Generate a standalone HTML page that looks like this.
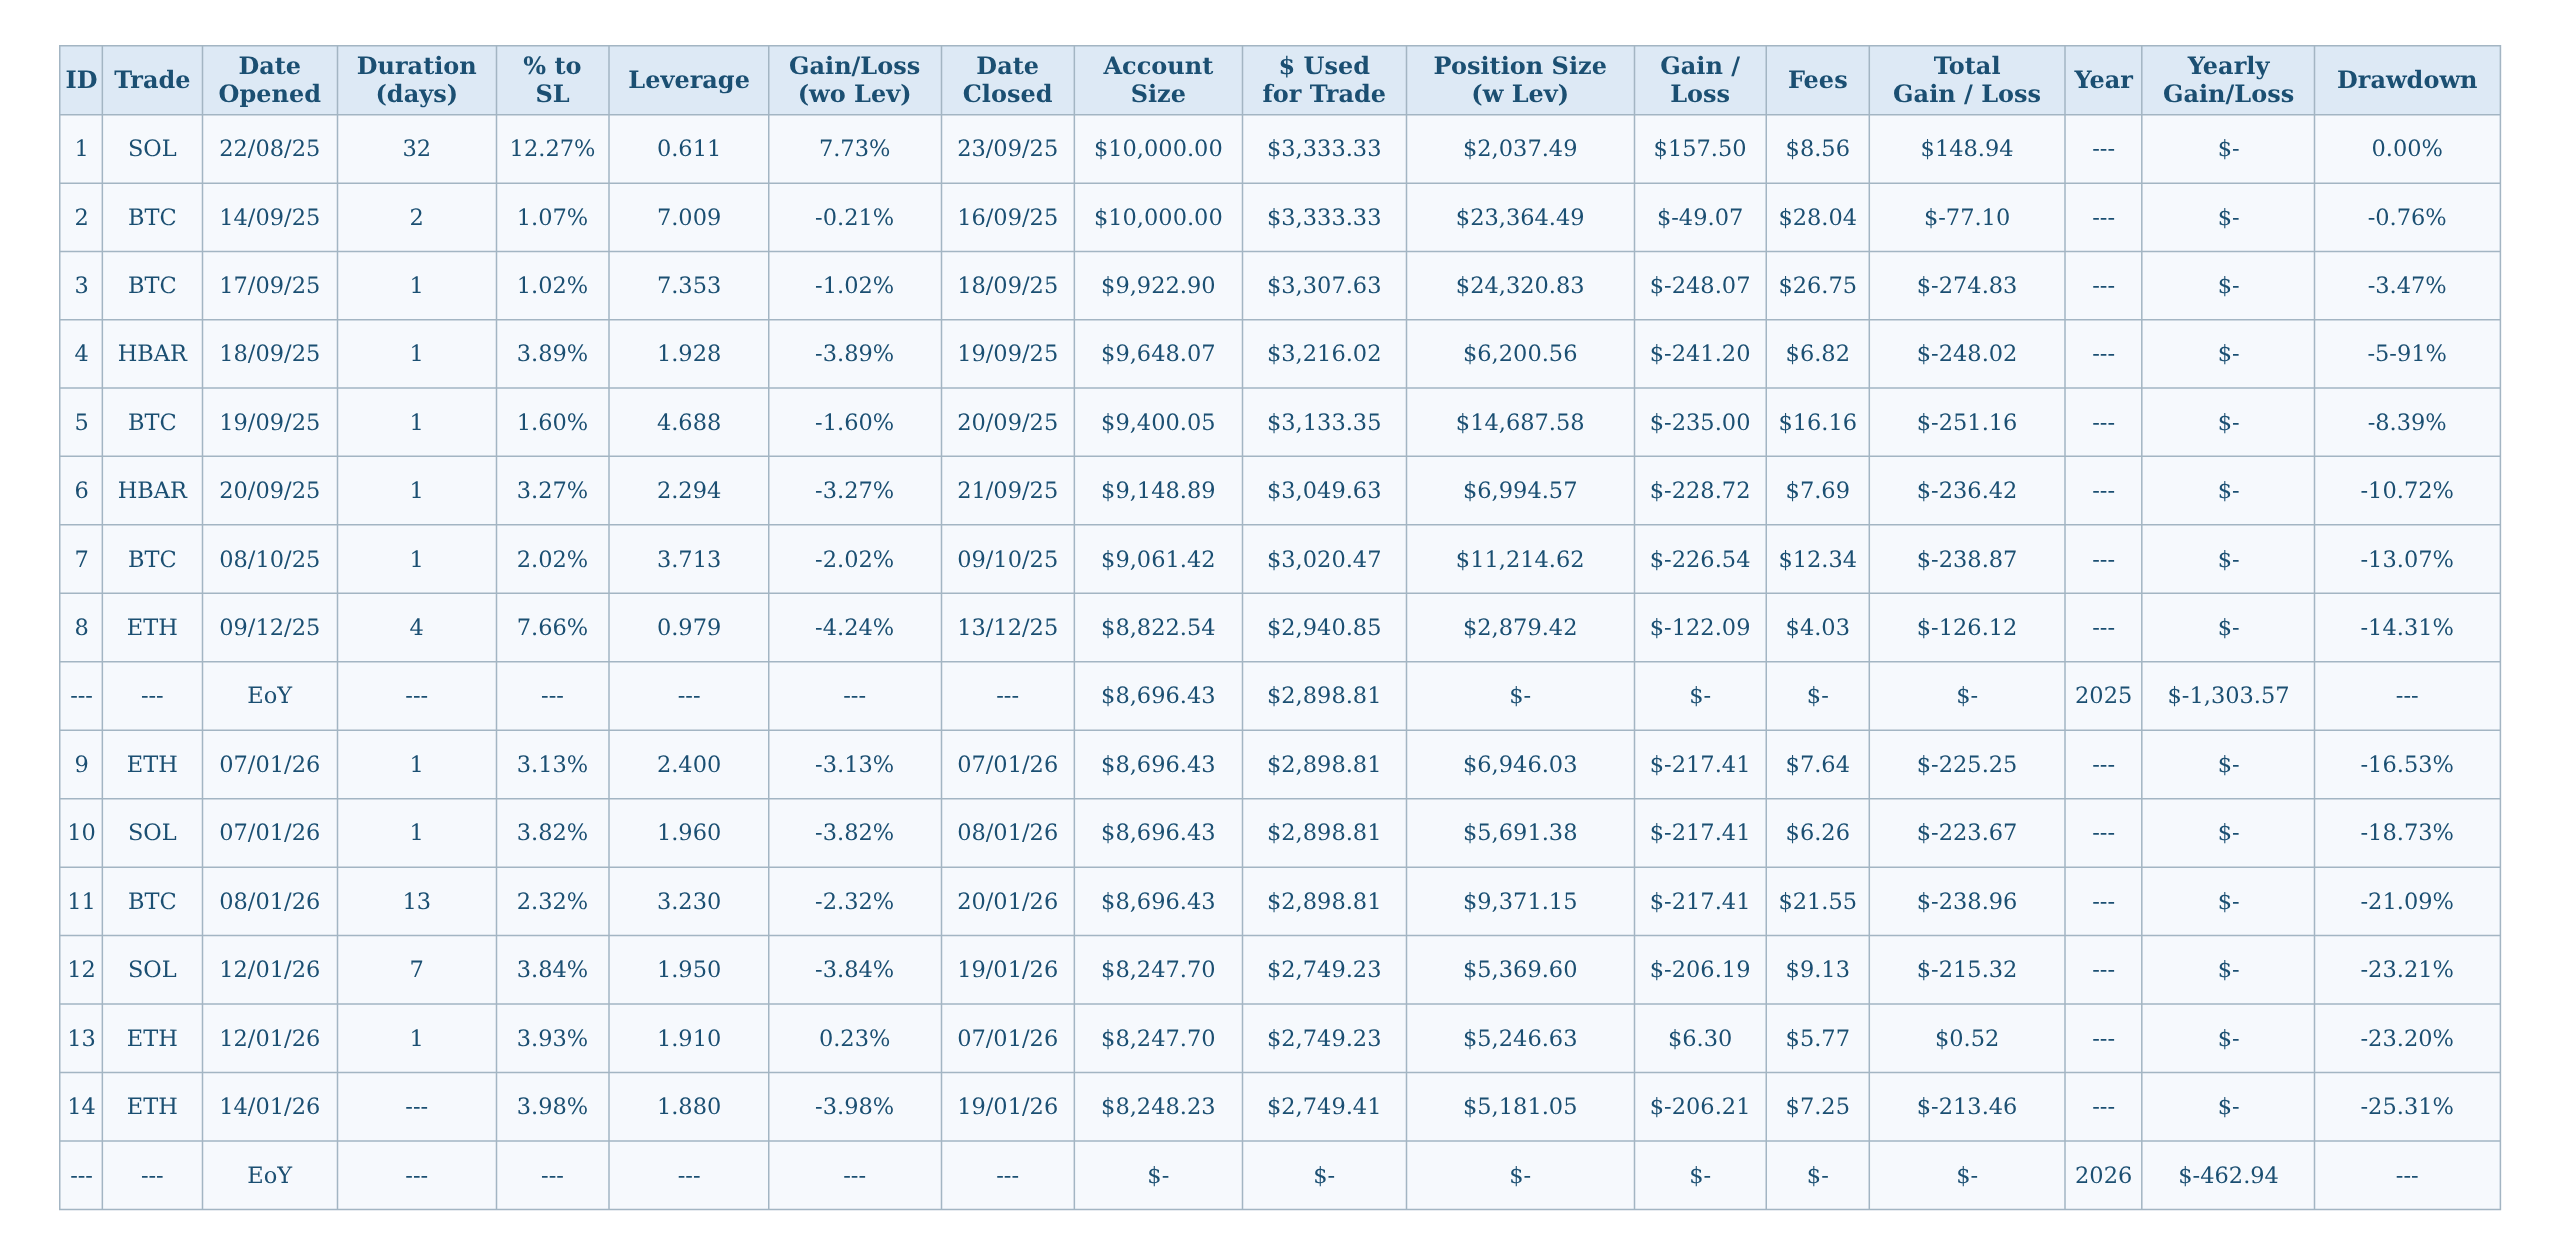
<!DOCTYPE html>
<html lang="en"><head><meta charset="utf-8"><title>Trade Log</title>
<style>
html,body{margin:0;padding:0;background:#fff;width:2560px;height:1256px;overflow:hidden}
.wrap{position:fixed;left:0;top:0;width:2560px;height:1256px;will-change:transform}
.grid{position:absolute;left:0;top:0}
table{position:absolute;left:60.5px;top:46.48px;width:2440.65px;table-layout:fixed;border-collapse:separate;border-spacing:0;
font-family:"DejaVu Serif",serif;color:#1b4f72}
th,td{transform:skewY(0.03deg);padding:0 1.5px 0 0;text-align:center;vertical-align:middle;white-space:nowrap;box-sizing:border-box}
th{font-size:24px;font-weight:bold;line-height:27.95px;padding-bottom:2.0px}
td{font-size:22.5px;font-weight:normal;line-height:26px;padding-bottom:1.62px}
</style></head><body>
<div class="wrap">
<svg class="grid" width="2560" height="1256" viewBox="0 0 2560 1256">
<rect x="59.0" y="44.98" width="2442.15" height="69.0" fill="#dde9f5"/>
<rect x="59.0" y="113.98" width="2442.15" height="1096.31" fill="#f6f9fd"/>
<path fill="#a3b5c3" d="M59.0 44.98h1.5V1210.29h-1.5ZM101.6 44.98h1.5V1210.29h-1.5ZM201.75 44.98h1.5V1210.29h-1.5ZM336.75 44.98h1.5V1210.29h-1.5ZM495.75 44.98h1.5V1210.29h-1.5ZM608.25 44.98h1.5V1210.29h-1.5ZM768.0 44.98h1.5V1210.29h-1.5ZM940.75 44.98h1.5V1210.29h-1.5ZM1073.6 44.98h1.5V1210.29h-1.5ZM1241.75 44.98h1.5V1210.29h-1.5ZM1405.75 44.98h1.5V1210.29h-1.5ZM1633.75 44.98h1.5V1210.29h-1.5ZM1765.5 44.98h1.5V1210.29h-1.5ZM1868.55 44.98h1.5V1210.29h-1.5ZM2064.25 44.98h1.5V1210.29h-1.5ZM2141.05 44.98h1.5V1210.29h-1.5ZM2313.75 44.98h1.5V1210.29h-1.5ZM2499.65 44.98h1.5V1210.29h-1.5ZM59.0 44.98H2501.15v1.5H59.0ZM59.0 113.98H2501.15v1.5H59.0ZM59.0 182.46H2501.15v1.5H59.0ZM59.0 250.697H2501.15v1.5H59.0ZM59.0 318.933H2501.15v1.5H59.0ZM59.0 387.17H2501.15v1.5H59.0ZM59.0 455.623H2501.15v1.5H59.0ZM59.0 524.075H2501.15v1.5H59.0ZM59.0 592.528H2501.15v1.5H59.0ZM59.0 660.98H2501.15v1.5H59.0ZM59.0 729.445H2501.15v1.5H59.0ZM59.0 797.91H2501.15v1.5H59.0ZM59.0 866.375H2501.15v1.5H59.0ZM59.0 934.84H2501.15v1.5H59.0ZM59.0 1003.327H2501.15v1.5H59.0ZM59.0 1071.815H2501.15v1.5H59.0ZM59.0 1140.303H2501.15v1.5H59.0ZM59.0 1208.79H2501.15v1.5H59.0Z"/>
</svg>
<table>
<colgroup><col style="width:42.6px"><col style="width:100.15px"><col style="width:135.0px"><col style="width:159.0px"><col style="width:112.5px"><col style="width:159.75px"><col style="width:172.75px"><col style="width:132.85px"><col style="width:168.15px"><col style="width:164.0px"><col style="width:228.0px"><col style="width:131.75px"><col style="width:103.05px"><col style="width:195.7px"><col style="width:76.8px"><col style="width:172.7px"><col style="width:185.9px"></colgroup>
<thead><tr style="height:69.0px"><th>ID</th><th>Trade</th><th>Date<br>Opened</th><th>Duration<br>(days)</th><th>% to<br>SL</th><th>Leverage</th><th>Gain/Loss<br>(wo Lev)</th><th>Date<br>Closed</th><th>Account<br>Size</th><th>$ Used<br>for Trade</th><th>Position Size<br>(w Lev)</th><th>Gain /<br>Loss</th><th>Fees</th><th>Total<br>Gain / Loss</th><th>Year</th><th>Yearly<br>Gain/Loss</th><th>Drawdown</th></tr></thead>
<tbody>
<tr style="height:68.48px"><td>1</td><td>SOL</td><td>22/08/25</td><td>32</td><td>12.27%</td><td>0.611</td><td>7.73%</td><td>23/09/25</td><td>$10,000.00</td><td>$3,333.33</td><td>$2,037.49</td><td>$157.50</td><td>$8.56</td><td>$148.94</td><td>---</td><td>$-</td><td>0.00%</td></tr>
<tr style="height:68.237px"><td>2</td><td>BTC</td><td>14/09/25</td><td>2</td><td>1.07%</td><td>7.009</td><td>-0.21%</td><td>16/09/25</td><td>$10,000.00</td><td>$3,333.33</td><td>$23,364.49</td><td>$-49.07</td><td>$28.04</td><td>$-77.10</td><td>---</td><td>$-</td><td>-0.76%</td></tr>
<tr style="height:68.236px"><td>3</td><td>BTC</td><td>17/09/25</td><td>1</td><td>1.02%</td><td>7.353</td><td>-1.02%</td><td>18/09/25</td><td>$9,922.90</td><td>$3,307.63</td><td>$24,320.83</td><td>$-248.07</td><td>$26.75</td><td>$-274.83</td><td>---</td><td>$-</td><td>-3.47%</td></tr>
<tr style="height:68.237px"><td>4</td><td>HBAR</td><td>18/09/25</td><td>1</td><td>3.89%</td><td>1.928</td><td>-3.89%</td><td>19/09/25</td><td>$9,648.07</td><td>$3,216.02</td><td>$6,200.56</td><td>$-241.20</td><td>$6.82</td><td>$-248.02</td><td>---</td><td>$-</td><td>-5-91%</td></tr>
<tr style="height:68.453px"><td>5</td><td>BTC</td><td>19/09/25</td><td>1</td><td>1.60%</td><td>4.688</td><td>-1.60%</td><td>20/09/25</td><td>$9,400.05</td><td>$3,133.35</td><td>$14,687.58</td><td>$-235.00</td><td>$16.16</td><td>$-251.16</td><td>---</td><td>$-</td><td>-8.39%</td></tr>
<tr style="height:68.452px"><td>6</td><td>HBAR</td><td>20/09/25</td><td>1</td><td>3.27%</td><td>2.294</td><td>-3.27%</td><td>21/09/25</td><td>$9,148.89</td><td>$3,049.63</td><td>$6,994.57</td><td>$-228.72</td><td>$7.69</td><td>$-236.42</td><td>---</td><td>$-</td><td>-10.72%</td></tr>
<tr style="height:68.453px"><td>7</td><td>BTC</td><td>08/10/25</td><td>1</td><td>2.02%</td><td>3.713</td><td>-2.02%</td><td>09/10/25</td><td>$9,061.42</td><td>$3,020.47</td><td>$11,214.62</td><td>$-226.54</td><td>$12.34</td><td>$-238.87</td><td>---</td><td>$-</td><td>-13.07%</td></tr>
<tr style="height:68.452px"><td>8</td><td>ETH</td><td>09/12/25</td><td>4</td><td>7.66%</td><td>0.979</td><td>-4.24%</td><td>13/12/25</td><td>$8,822.54</td><td>$2,940.85</td><td>$2,879.42</td><td>$-122.09</td><td>$4.03</td><td>$-126.12</td><td>---</td><td>$-</td><td>-14.31%</td></tr>
<tr style="height:68.465px"><td>---</td><td>---</td><td>EoY</td><td>---</td><td>---</td><td>---</td><td>---</td><td>---</td><td>$8,696.43</td><td>$2,898.81</td><td>$-</td><td>$-</td><td>$-</td><td>$-</td><td>2025</td><td>$-1,303.57</td><td>---</td></tr>
<tr style="height:68.465px"><td>9</td><td>ETH</td><td>07/01/26</td><td>1</td><td>3.13%</td><td>2.400</td><td>-3.13%</td><td>07/01/26</td><td>$8,696.43</td><td>$2,898.81</td><td>$6,946.03</td><td>$-217.41</td><td>$7.64</td><td>$-225.25</td><td>---</td><td>$-</td><td>-16.53%</td></tr>
<tr style="height:68.465px"><td>10</td><td>SOL</td><td>07/01/26</td><td>1</td><td>3.82%</td><td>1.960</td><td>-3.82%</td><td>08/01/26</td><td>$8,696.43</td><td>$2,898.81</td><td>$5,691.38</td><td>$-217.41</td><td>$6.26</td><td>$-223.67</td><td>---</td><td>$-</td><td>-18.73%</td></tr>
<tr style="height:68.465px"><td>11</td><td>BTC</td><td>08/01/26</td><td>13</td><td>2.32%</td><td>3.230</td><td>-2.32%</td><td>20/01/26</td><td>$8,696.43</td><td>$2,898.81</td><td>$9,371.15</td><td>$-217.41</td><td>$21.55</td><td>$-238.96</td><td>---</td><td>$-</td><td>-21.09%</td></tr>
<tr style="height:68.487px"><td>12</td><td>SOL</td><td>12/01/26</td><td>7</td><td>3.84%</td><td>1.950</td><td>-3.84%</td><td>19/01/26</td><td>$8,247.70</td><td>$2,749.23</td><td>$5,369.60</td><td>$-206.19</td><td>$9.13</td><td>$-215.32</td><td>---</td><td>$-</td><td>-23.21%</td></tr>
<tr style="height:68.488px"><td>13</td><td>ETH</td><td>12/01/26</td><td>1</td><td>3.93%</td><td>1.910</td><td>0.23%</td><td>07/01/26</td><td>$8,247.70</td><td>$2,749.23</td><td>$5,246.63</td><td>$6.30</td><td>$5.77</td><td>$0.52</td><td>---</td><td>$-</td><td>-23.20%</td></tr>
<tr style="height:68.488px"><td>14</td><td>ETH</td><td>14/01/26</td><td>---</td><td>3.98%</td><td>1.880</td><td>-3.98%</td><td>19/01/26</td><td>$8,248.23</td><td>$2,749.41</td><td>$5,181.05</td><td>$-206.21</td><td>$7.25</td><td>$-213.46</td><td>---</td><td>$-</td><td>-25.31%</td></tr>
<tr style="height:68.487px"><td>---</td><td>---</td><td>EoY</td><td>---</td><td>---</td><td>---</td><td>---</td><td>---</td><td>$-</td><td>$-</td><td>$-</td><td>$-</td><td>$-</td><td>$-</td><td>2026</td><td>$-462.94</td><td>---</td></tr>
</tbody>
</table>
</div>
</body></html>
